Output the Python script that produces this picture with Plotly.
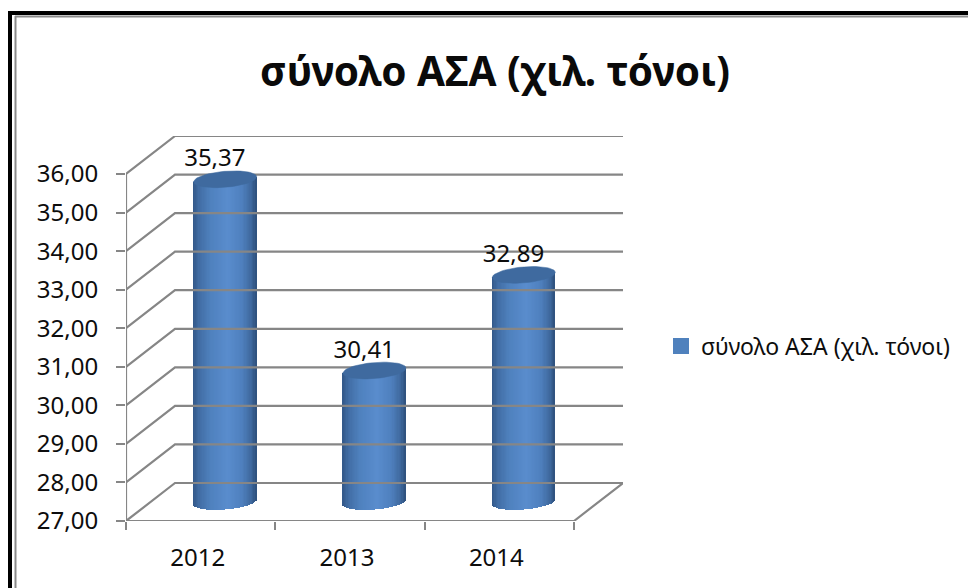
import numpy as np
import plotly.graph_objects as go

categories = ["2012", "2013", "2014"]
values = [35.37, 30.41, 32.89]
value_labels = ["35,37", "30,41", "32,89"]
y_ticks = [27, 28, 29, 30, 31, 32, 33, 34, 35, 36]
series_name = "σύνολο ΑΣΑ (χιλ. τόνοι)"
title_text = "σύνολο ΑΣΑ (χιλ. τόνοι)"

W, H = 968, 588
L, R, T, B = 126, 623, 136, 521      # plot-area pixels
CAT_PX = (574 - 126) / 3
UNIT_PX = (521 - 174) / 9
DX = 49 / CAT_PX                     # 3-D depth in axis units
DY = 38 / UNIT_PX
x_range = [-0.5, -0.5 + (R - L) / CAT_PX]
y_range = [27, 27 + (B - T) / UNIT_PX]

GRID = "#868686"
TXT = "#0d0d0d"
FONT = "Noto Sans"

fig = go.Figure()

# back wall, side wall and floor
gx, gy = [], []
for t in y_ticks:
    gx += [-0.5, -0.5 + DX, 2.5 + DX, None]
    gy += [t, t + DY, t + DY, None]
gx += [-0.5, 2.5, 2.5 + DX, None, -0.5, -0.5]
gy += [27, 27, 27 + DY, None, 27, 36]
fig.add_trace(go.Scatter(x=gx, y=gy, mode="lines", line=dict(color=GRID, width=2.2),
                         showlegend=False, hoverinfo="skip"))

# series bar (also carries the legend entry), hidden behind the cylinder shading
fig.add_trace(go.Bar(x=[i + DX / 2 for i in range(3)], y=[v - 27 for v in values], base=27 + DY / 2,
                     width=0.1, name=series_name, showlegend=True,
                     marker=dict(color="#4f81bd", line=dict(color="#4f81bd", width=4)),
                     hoverinfo="skip"))

# cylinder body as thin vertical strips
RX = 31.5 / CAT_PX
EY = 8 / UNIT_PX
TILT = 2.5 / UNIT_PX
LIFT = 0.5 / UNIT_PX
N = 48
stops_u = [-1.0, -0.8, -0.45, 0.1, 0.55, 0.85, 1.0]
stops_c = [(0x33, 0x58, 0x88), (0x42, 0x6e, 0xa5), (0x4f, 0x81, 0xbe), (0x5a, 0x8d, 0xce),
           (0x4f, 0x80, 0xbe), (0x3f, 0x69, 0x9e), (0x2e, 0x50, 0x7c)]
us = (np.arange(N) + 0.5) / N * 2 - 1
cols = ["rgb(%d,%d,%d)" % tuple(np.interp(u, stops_u, [c[k] for c in stops_c]) for k in range(3)) for u in us]
sx, sb, sh, sc = [], [], [], []
for i, v in enumerate(values):
    cx = i + DX / 2
    for u, c in zip(us, cols):
        bottom = 27 + DY / 2 + LIFT - EY * np.sqrt(1 - u * u) + TILT * u
        top = v + DY / 2 + TILT * u
        sx.append(cx + u * RX); sb.append(bottom); sh.append(top - bottom); sc.append(c)
fig.add_trace(go.Bar(x=sx, y=sh, base=sb, width=2 * RX / N * 1.2, showlegend=False,
                     marker=dict(color=sc, line=dict(width=0)), hoverinfo="skip"))

# top ellipses
t = np.linspace(0, 2 * np.pi, 60)
for i, v in enumerate(values):
    cx = i + DX / 2
    fig.add_trace(go.Scatter(x=cx + RX * np.cos(t), y=v + DY / 2 + EY * np.sin(t) + TILT * np.cos(t),
                             mode="lines", fill="toself", fillcolor="#3f6a9f",
                             line=dict(color="#3f6a9f", width=0.5), showlegend=False, hoverinfo="skip"))

# data labels
fig.add_trace(go.Scatter(x=[i + 0.095 for i in range(3)], y=[v + DY for v in values],
                         text=value_labels, mode="text", textposition="middle center",
                         textfont=dict(family=FONT, size=24, color=TXT),
                         showlegend=False, hoverinfo="skip"))

# boundary ticks on a second x axis
fig.add_trace(go.Scatter(x=[None], y=[None], xaxis="x2", showlegend=False, hoverinfo="skip"))

frame = [
    dict(x0=8, x1=W, y0=13, y1=13, c="#000000", w=4),
    dict(x0=10, x1=10, y0=11, y1=H, c="#000000", w=4),
    dict(x0=15, x1=W, y0=16.5, y1=16.5, c="#8a8a8a", w=2),
    dict(x0=15.5, x1=15.5, y0=16, y1=H, c="#8a8a8a", w=2),
]
shapes = [dict(type="line", xref="paper", yref="paper", layer="above",
               x0=(f["x0"] - L) / (R - L), x1=(f["x1"] - L) / (R - L),
               y0=(B - f["y0"]) / (B - T), y1=(B - f["y1"]) / (B - T),
               line=dict(color=f["c"], width=f["w"])) for f in frame]

fig.update_layout(
    width=W, height=H, margin=dict(l=L, r=W - R, t=T, b=H - B, autoexpand=False),
    paper_bgcolor="white", plot_bgcolor="white", separators=",.", barmode="overlay",
    bargap=0, font=dict(family=FONT, color=TXT),
    title=dict(text=title_text, x=495 / W, xanchor="center", y=1 - 72 / H, yanchor="middle",
               font=dict(family=FONT, size=40.5, color="#0a0a0a", weight="bold")),
    showlegend=True,
    legend=dict(x=661 / W, xref="container", y=1 - 346 / H, yref="container", yanchor="middle", xanchor="left",
                font=dict(family=FONT, size=23, color=TXT), bgcolor="rgba(0,0,0,0)"),
    xaxis=dict(range=x_range, tickvals=[i - 0.02 for i in range(3)], ticktext=categories, showgrid=False,
               zeroline=False, showline=False, ticks="outside", ticklen=15, tickcolor="rgba(0,0,0,0)",
               tickfont=dict(family=FONT, size=24, color=TXT)),
    xaxis2=dict(range=x_range, overlaying="x", side="bottom", tickvals=[-0.5, 0.5, 1.5, 2.5],
                showticklabels=False, showgrid=False, zeroline=False, showline=False,
                ticks="outside", ticklen=8, tickwidth=2, tickcolor=GRID),
    yaxis=dict(range=y_range, tickvals=y_ticks, tickformat=".2f", showgrid=False, zeroline=False,
               showline=False, ticks="outside", ticklen=9, tickwidth=2, tickcolor=GRID,
               ticklabelstandoff=13, tickfont=dict(family=FONT, size=24, color=TXT)),
    shapes=shapes,
)
fig.write_html("out.html", config={"displayModeBar": False}, post_script="document.body.style.margin='0';")
